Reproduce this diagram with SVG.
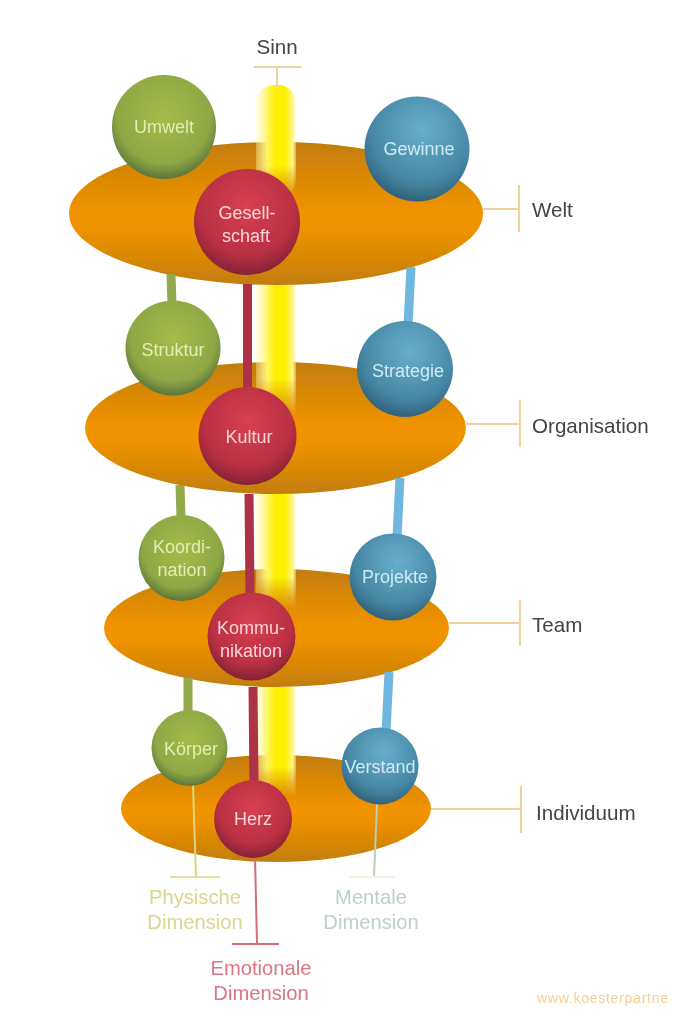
<svg xmlns="http://www.w3.org/2000/svg" width="673" height="1024" viewBox="0 0 673 1024">
<style>
.disc{fill:url(#gOrange)}
.green{fill:url(#gGreen)}
.red{fill:url(#gRed)}
.blue{fill:url(#gBlue)}
.nl{font-family:"Liberation Sans",Arial,sans-serif;font-size:18px;text-anchor:middle}
.gl{fill:#e4eeb4}
.rl{fill:#f8d6d6}
.bl{fill:#cfeaf4}
.side{font-family:"Liberation Sans",Arial,sans-serif;font-size:20.6px;fill:#444}
.dim{font-family:"Liberation Sans",Arial,sans-serif;font-size:20.2px;text-anchor:middle}
.tick{stroke:#f0d09c;stroke-width:2;fill:none}
.thick{fill:none;stroke-width:9}
</style>
<defs>
<filter id="soft" x="-5%" y="-5%" width="110%" height="110%"><feGaussianBlur stdDeviation="0.5"/></filter>
<linearGradient id="gOrange" x1="0" y1="0" x2="0" y2="1">
<stop offset="0" stop-color="#c27d0a"/><stop offset="0.5" stop-color="#f29400"/><stop offset="0.62" stop-color="#ee9200"/><stop offset="1" stop-color="#c27d0a"/>
</linearGradient>
<radialGradient id="gGreen" cx="0.5" cy="0.4" r="0.62">
<stop offset="0" stop-color="#a5bb48"/><stop offset="0.72" stop-color="#8fa845"/><stop offset="1" stop-color="#566f3a"/>
</radialGradient>
<radialGradient id="gRed" cx="0.5" cy="0.36" r="0.66">
<stop offset="0" stop-color="#d8404f"/><stop offset="0.7" stop-color="#b92f44"/><stop offset="1" stop-color="#7c2233"/>
</radialGradient>
<radialGradient id="gBlue" cx="0.55" cy="0.32" r="0.7">
<stop offset="0" stop-color="#68afcd"/><stop offset="0.7" stop-color="#4687a5"/><stop offset="1" stop-color="#2f5f76"/>
</radialGradient>
<linearGradient id="gBeam" x1="0" y1="0" x2="1" y2="0">
<stop offset="0" stop-color="#fffbc0" stop-opacity="0.35"/><stop offset="0.28" stop-color="#fff566"/><stop offset="0.48" stop-color="#fff000"/><stop offset="0.72" stop-color="#fff000"/><stop offset="0.92" stop-color="#fff680"/><stop offset="1" stop-color="#fffbc0" stop-opacity="0.35"/>
</linearGradient>
<linearGradient id="gFade" x1="0" y1="0" x2="0" y2="1">
<stop offset="0.72" stop-color="#fff"/><stop offset="1" stop-color="#000"/>
</linearGradient>
<mask id="mBeam" maskUnits="userSpaceOnUse" x="250" y="80" width="52" height="730">
<rect x="256" y="85" width="40" height="112" rx="18" fill="url(#gFade)"/>
<rect x="256" y="285" width="40" height="130" fill="url(#gFade)"/>
<rect x="256" y="494" width="40" height="115" fill="url(#gFade)"/>
<rect x="256" y="687" width="40" height="110" fill="url(#gFade)"/>
</mask>
</defs>
<rect width="673" height="1024" fill="#fff"/>
<g filter="url(#soft)">
<g id="disc-individuum"><ellipse class="disc" cx="276" cy="808.5" rx="155" ry="53.5"/></g>
<g id="disc-team"><ellipse class="disc" cx="276.500" cy="628" rx="172.500" ry="59"/></g>
<g id="disc-organisation"><ellipse class="disc" cx="275.500" cy="428" rx="190.500" ry="66"/></g>
<g id="disc-welt"><ellipse class="disc" cx="276" cy="213.500" rx="207" ry="71.500"/></g>
<g id="beam"><rect x="256" y="85" width="40" height="712" fill="url(#gBeam)" mask="url(#mBeam)"/></g>
<g id="connectors">
<g class="thick">
<path d="M171 274L172 304M180 485L181 518M188 678L188 713" stroke="#94a94c"/>
<path d="M247.500 284V392M249 494L250 594M253 687L254 783" stroke="#ad3246"/>
<path d="M411 267L408 325M400 478L397 537M389 672L386 732" stroke="#6fb7e0"/>
</g>
<path d="M193 785L196 877" stroke="#dcd57c" stroke-width="2" fill="none"/>
<path d="M170 877H220" stroke="#e6dfa0" stroke-width="2" fill="none"/>
<path d="M255 857L257 944" stroke="#d96a78" stroke-width="2" fill="none"/>
<path d="M232 944H279" stroke="#d96a78" stroke-width="2" fill="none"/>
<path d="M377 804L374 877" stroke="#bccdb8" stroke-width="2" fill="none"/>
<path d="M350 877H395" stroke="#f6eedf" stroke-width="2" fill="none"/>
<path class="tick" d="M254 67H301M277 67V87"/>
<path class="tick" d="M483 209H519M519 185V232"/>
<path class="tick" d="M466 424H520M520 400V447"/>
<path class="tick" d="M449 623H520M520 600V646"/>
<path class="tick" d="M431 809H521M521 786V833"/>
</g>
<g id="umwelt"><circle class="green" cx="164" cy="127" r="52"/><text class="nl gl" x="164" y="133">Umwelt</text></g>
<g id="gewinne"><circle class="blue" cx="417" cy="149" r="52.500"/><text class="nl bl" x="419" y="155">Gewinne</text></g>
<g id="gesellschaft"><circle class="red" cx="247" cy="222" r="53"/><text class="nl rl" x="247" y="219">Gesell-</text><text class="nl rl" x="246" y="242">schaft</text></g>
<g id="struktur"><circle class="green" cx="173" cy="348" r="47.500"/><text class="nl gl" x="173" y="356">Struktur</text></g>
<g id="strategie"><circle class="blue" cx="405" cy="369" r="48"/><text class="nl bl" x="408" y="377">Strategie</text></g>
<g id="kultur"><circle class="red" cx="247.500" cy="436" r="49"/><text class="nl rl" x="249" y="443">Kultur</text></g>
<g id="koordination"><circle class="green" cx="181.500" cy="558" r="43"/><text class="nl gl" x="182" y="553">Koordi-</text><text class="nl gl" x="182" y="576">nation</text></g>
<g id="projekte"><circle class="blue" cx="393" cy="577" r="43.500"/><text class="nl bl" x="395" y="583">Projekte</text></g>
<g id="kommunikation"><circle class="red" cx="251.500" cy="636.500" r="44"/><text class="nl rl" x="251" y="634">Kommu-</text><text class="nl rl" x="251" y="657">nikation</text></g>
<g id="koerper"><circle class="green" cx="189.500" cy="748" r="38"/><text class="nl gl" x="191" y="755">Körper</text></g>
<g id="verstand"><circle class="blue" cx="380" cy="766" r="38.500"/><text class="nl bl" x="380" y="773">Verstand</text></g>
<g id="herz"><circle class="red" cx="253" cy="819" r="39"/><text class="nl rl" x="253" y="825">Herz</text></g>
<g id="labels">
<text class="side" x="277" y="54" text-anchor="middle">Sinn</text>
<text class="side" x="532" y="217">Welt</text>
<text class="side" x="532" y="433">Organisation</text>
<text class="side" x="532" y="632">Team</text>
<text class="side" x="536" y="820">Individuum</text>
<text class="dim" x="195" y="904" fill="#d9d68f">Physische</text>
<text class="dim" x="195" y="929" fill="#d9d68f">Dimension</text>
<text class="dim" x="261" y="975" fill="#dc7583">Emotionale</text>
<text class="dim" x="261" y="1000" fill="#dc7583">Dimension</text>
<text class="dim" x="371" y="904" fill="#bcd0c8">Mentale</text>
<text class="dim" x="371" y="929" fill="#bcd0c8">Dimension</text>
<text x="537" y="1003" font-family="'Liberation Sans',Arial,sans-serif" font-size="14" fill="#f3cf95" textLength="131">www.koesterpartne</text>
</g>
</g>
</svg>
